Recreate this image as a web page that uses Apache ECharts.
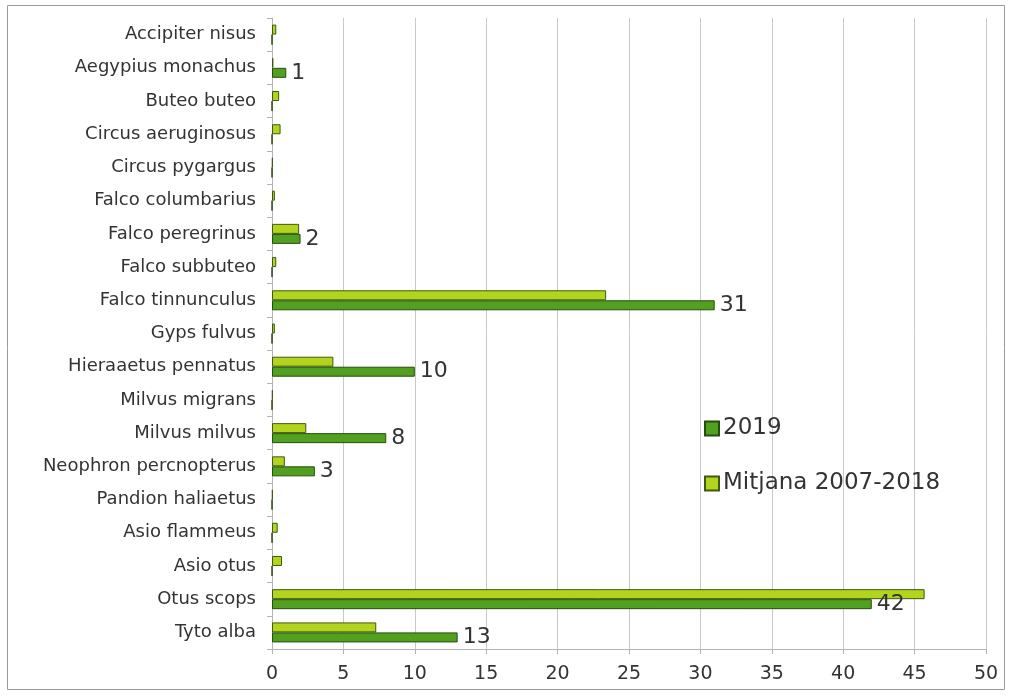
<!DOCTYPE html>
<html>
<head>
<meta charset="utf-8">
<script src="https://cdn.jsdelivr.net/npm/echarts@6/dist/echarts.min.js"></script>
<style>html,body{margin:0;padding:0;background:#fff;}#c{width:1012px;height:697px;}</style>
</head>
<body>
<div id="c"></div>
<script>
const categories = ["Accipiter nisus","Aegypius monachus","Buteo buteo","Circus aeruginosus","Circus pygargus","Falco columbarius","Falco peregrinus","Falco subbuteo","Falco tinnunculus","Gyps fulvus","Hieraaetus pennatus","Milvus migrans","Milvus milvus","Neophron percnopterus","Pandion haliaetus","Asio flammeus","Asio otus","Otus scops","Tyto alba"];
const values2019 = [0,1,0,0,0,0,2,0,31,0,10,0,8,3,0,0,0,42,13];
const valuesMitjana = [0.3,0.1,0.5,0.6,0.05,0.2,1.9,0.3,23.4,0.2,4.3,0.05,2.4,0.9,0.05,0.4,0.7,45.7,7.3];
const xTicks = [0,5,10,15,20,25,30,35,40,45,50];

const FONT = 'DejaVu Sans, Liberation Sans, sans-serif';
const chart = echarts.init(document.getElementById('c'));
chart.setOption({
  animation:false,
  backgroundColor:'#fff',
  textStyle:{fontFamily:FONT},
  graphic:[{type:'rect',shape:{x:7.5,y:5.5,width:997,height:684},style:{fill:'none',stroke:'#9a9a9a',lineWidth:1}}],
  grid:{left:272,right:26,top:18,bottom:48,containLabel:false},
  legend:{
    data:['2019','Mitjana 2007-2018'],
    orient:'vertical',left:699,top:412,itemGap:32,itemWidth:14,itemHeight:14,
    icon:'rect',
    textStyle:{fontSize:23,color:'#333',fontFamily:FONT,padding:[0,0,0,-1]}
  },
  xAxis:{type:'value',min:0,max:50,interval:5,
    axisLine:{show:true,lineStyle:{color:'#b3b3b3'}},
    axisTick:{show:true,length:5,lineStyle:{color:'#b3b3b3'}},
    axisLabel:{fontSize:19,color:'#333',margin:16,fontFamily:FONT,formatter:v=>xTicks.includes(v)?String(v):''},
    splitLine:{show:true,lineStyle:{color:'#c8c8c8',width:1}}
  },
  yAxis:{type:'category',data:categories,inverse:true,
    axisLine:{show:true,lineStyle:{color:'#b3b3b3'}},
    axisTick:{show:true,length:5,lineStyle:{color:'#b3b3b3'}},
    axisLabel:{fontSize:18,color:'#333',margin:16,fontFamily:FONT},
    splitLine:{show:false}
  },
  series:[
    {name:'Mitjana 2007-2018',type:'bar',data:valuesMitjana,barWidth:10,barGap:'0%',
      itemStyle:{color:'#b2d41c',borderColor:'#3f5a10',borderWidth:1}},
    {name:'2019',type:'bar',data:values2019,barWidth:10,barGap:'0%',
      itemStyle:{color:'#52a01f',borderColor:'#274d0e',borderWidth:1},
      label:{show:true,position:'right',distance:5,fontSize:22,color:'#333',fontFamily:FONT,
        formatter:p=>p.value>0?String(p.value):''}}
  ]
});
</script>
</body>
</html>
